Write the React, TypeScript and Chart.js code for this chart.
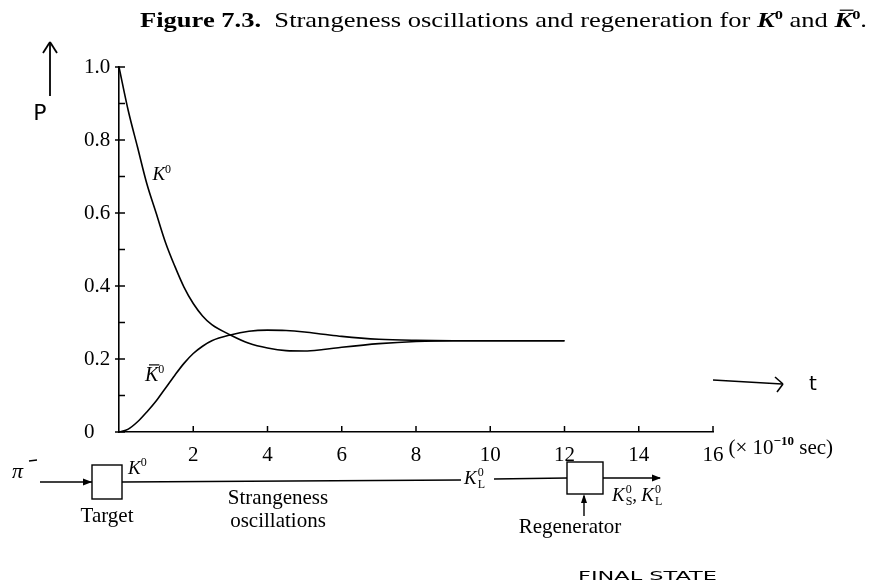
import React, { useEffect, useRef } from 'react';
import { Chart, registerables } from 'chart.js';

Chart.register(...registerables);

// ---- data ----
const tValues = [0, 0.25, 0.5, 0.75, 1, 1.25, 1.5, 1.75, 2, 2.25, 2.5, 3, 3.5, 4, 4.5, 5, 5.5, 6, 7, 8, 9, 10, 11, 12];
const k0Values = [1.0, 0.88, 0.78, 0.68, 0.6, 0.52, 0.455, 0.397, 0.352, 0.318, 0.294, 0.266, 0.243, 0.23, 0.223, 0.222, 0.226, 0.232, 0.242, 0.248, 0.25, 0.25, 0.25, 0.25];
const k0barValues = [0, 0.008, 0.028, 0.055, 0.085, 0.12, 0.155, 0.188, 0.215, 0.235, 0.25, 0.266, 0.276, 0.279, 0.278, 0.274, 0.268, 0.262, 0.254, 0.251, 0.25, 0.25, 0.25, 0.25];

const xTickValues = [2, 4, 6, 8, 10, 12, 14, 16];
const xTickLabels = ['2', '4', '6', '8', '10', '12', '14', '16'];
const yTickValues = [0, 0.2, 0.4, 0.6, 0.8, 1.0];
const yTickLabels = ['0', '0.2', '0.4', '0.6', '0.8', '1.0'];
const yMinorTicks = [0.1, 0.3, 0.5, 0.7, 0.9];

const SERIF = '"Liberation Serif", serif';
const SANS = '"DejaVu Sans", sans-serif';

type Seg = { text: string; font: string; dy?: number; bar?: boolean };

function drawSegs(ctx: CanvasRenderingContext2D, segs: Seg[], x: number, y: number, targetWidth?: number) {
  let total = 0;
  const widths = segs.map((s) => {
    ctx.font = s.font;
    const w = ctx.measureText(s.text).width;
    total += w;
    return w;
  });
  ctx.save();
  ctx.translate(x, y);
  if (targetWidth) ctx.scale(targetWidth / total, 1);
  let cx = 0;
  segs.forEach((s, i) => {
    ctx.font = s.font;
    ctx.textBaseline = 'alphabetic';
    ctx.textAlign = 'left';
    ctx.fillText(s.text, cx, s.dy || 0);
    if (s.bar) {
      const size = parseFloat(s.font.match(/(\d+(\.\d+)?)px/)![1]);
      ctx.beginPath();
      ctx.lineWidth = 1.2;
      ctx.moveTo(cx + size * 0.2, (s.dy || 0) - size * 0.8);
      ctx.lineTo(cx + widths[i] + size * 0.05, (s.dy || 0) - size * 0.8);
      ctx.stroke();
    }
    cx += widths[i];
  });
  ctx.restore();
  return targetWidth || total;
}

function kSegs(size: number, sup: string, bar?: boolean, bold?: boolean): Seg[] {
  const b = bold ? 'bold ' : '';
  return [
    { text: 'K', font: `italic ${b}${size}px ${SERIF}`, bar },
    { text: sup, font: `${b}${Math.round(size * 0.62)}px ${SERIF}`, dy: -size * 0.4 },
  ];
}

function drawKSub(ctx: CanvasRenderingContext2D, x: number, y: number, size: number, sub: string) {
  ctx.font = `italic ${size}px ${SERIF}`;
  ctx.textBaseline = 'alphabetic';
  ctx.textAlign = 'left';
  ctx.fillText('K', x, y);
  const w = ctx.measureText('K').width;
  ctx.font = `${Math.round(size * 0.62)}px ${SERIF}`;
  ctx.fillText('0', x + w + 1, y - size * 0.4);
  ctx.fillText(sub, x + w + 1, y + size * 0.22);
  const w2 = Math.max(ctx.measureText('0').width, ctx.measureText(sub).width);
  return w + 1 + w2;
}

function line(ctx: CanvasRenderingContext2D, x1: number, y1: number, x2: number, y2: number) {
  ctx.beginPath();
  ctx.moveTo(x1, y1);
  ctx.lineTo(x2, y2);
  ctx.stroke();
}

function headRight(ctx: CanvasRenderingContext2D, x: number, y: number) {
  ctx.beginPath();
  ctx.moveTo(x, y);
  ctx.lineTo(x - 9, y - 3.5);
  ctx.lineTo(x - 9, y + 3.5);
  ctx.closePath();
  ctx.fill();
}

const overlay = {
  id: 'overlay',
  afterDraw(chart: any) {
    const ctx: CanvasRenderingContext2D = chart.ctx;
    const xs = chart.scales.x;
    const ys = chart.scales.y;
    const { left, bottom } = chart.chartArea;
    ctx.save();
    ctx.strokeStyle = '#000';
    ctx.fillStyle = '#000';
    ctx.lineWidth = 1.5;

    // tick marks
    xTickValues.forEach((v) => {
      const px = xs.getPixelForValue(v);
      line(ctx, px, bottom, px, bottom - 6);
    });
    yTickValues.forEach((v) => {
      const py = ys.getPixelForValue(v);
      line(ctx, left - 4, py, left + 6, py);
    });
    yMinorTicks.forEach((v) => {
      const py = ys.getPixelForValue(v);
      line(ctx, left, py, left + 6, py);
    });

    // title
    drawSegs(
      ctx,
      [
        { text: 'Figure 7.3.', font: `bold 21px ${SERIF}` },
        { text: '  Strangeness oscillations and regeneration for ', font: `21px ${SERIF}` },
        ...kSegs(21, '0', false, true),
        { text: ' and ', font: `21px ${SERIF}` },
        ...kSegs(21, '0', true, true),
        { text: '.', font: `21px ${SERIF}` },
      ],
      140,
      27,
      727
    );

    // unit suffix after "16"
    ctx.font = `21px ${SERIF}`;
    const w16 = ctx.measureText('16').width;
    const ux = xs.getPixelForValue(16) + w16 / 2 + 5;
    drawSegs(
      ctx,
      [
        { text: '(× 10', font: `21px ${SERIF}` },
        { text: '−10', font: `bold 13px ${SERIF}`, dy: -9 },
        { text: ' sec)', font: `21px ${SERIF}` },
      ],
      ux,
      bottom + 22
    );

    // curve labels
    drawSegs(ctx, kSegs(19, '0'), xs.getPixelForValue(0.9), ys.getPixelForValue(0.69));
    drawSegs(ctx, kSegs(20, '0', true), xs.getPixelForValue(0.7), ys.getPixelForValue(0.14));

    // handwritten P axis arrow
    ctx.lineWidth = 1.8;
    line(ctx, 50, 96, 50, 42);
    line(ctx, 50, 42, 43, 53);
    line(ctx, 50, 42, 57, 53);
    ctx.font = `22px ${SANS}`;
    ctx.textAlign = 'center';
    ctx.fillText('P', 40, 120);

    // handwritten t arrow
    ctx.lineWidth = 1.6;
    line(ctx, 713, 380, 782, 384);
    line(ctx, 775, 377, 783, 384);
    line(ctx, 783, 384, 777, 392);
    ctx.font = `20px ${SANS}`;
    ctx.fillText('t', 813, 390);

    // ---- beam diagram ----
    ctx.lineWidth = 1.4;
    ctx.font = `italic 22px ${SERIF}`;
    ctx.textAlign = 'left';
    ctx.fillText('π', 12, 478);
    line(ctx, 29, 461, 37, 460);
    line(ctx, 40, 482, 92, 482);
    headRight(ctx, 92, 482);
    ctx.strokeRect(92, 465, 30, 34);
    line(ctx, 122, 482, 461, 480);
    drawSegs(ctx, kSegs(19, '0'), 128, 474);

    drawKSub(ctx, 464, 484, 19, 'L');
    line(ctx, 494, 479, 567, 478);
    ctx.strokeRect(567, 462, 36, 32);
    line(ctx, 603, 478, 660, 478);
    headRight(ctx, 661, 478);
    const wks = drawKSub(ctx, 612, 501, 19, 'S');
    ctx.font = `19px ${SERIF}`;
    ctx.fillText(',', 612 + wks, 501);
    drawKSub(ctx, 612 + wks + 9, 501, 19, 'L');
    line(ctx, 584, 516, 584, 496);
    ctx.beginPath();
    ctx.moveTo(584, 494);
    ctx.lineTo(581, 503);
    ctx.lineTo(587, 503);
    ctx.closePath();
    ctx.fill();

    ctx.font = `21px ${SERIF}`;
    ctx.textAlign = 'center';
    ctx.fillText('Target', 107, 522);
    ctx.fillText('Strangeness', 278, 504);
    ctx.fillText('oscillations', 278, 527);
    ctx.fillText('Regenerator', 570, 533);

    ctx.textAlign = 'left';
    drawSegs(ctx, [{ text: 'FINAL STATE', font: `13px ${SANS}` }], 578, 580, 139);

    ctx.restore();
  },
};

export default function App() {
  const ref = useRef<HTMLCanvasElement>(null);
  useEffect(() => {
    const canvas = ref.current!;
    const chart = new Chart(canvas, {
      type: 'line',
      data: {
        datasets: [
          {
            label: 'K0',
            data: tValues.map((t, i) => ({ x: t, y: k0Values[i] })),
            borderColor: '#000',
            borderWidth: 1.6,
            pointRadius: 0,
            cubicInterpolationMode: 'monotone',
            fill: false,
          },
          {
            label: 'K0bar',
            data: tValues.map((t, i) => ({ x: t, y: k0barValues[i] })),
            borderColor: '#000',
            borderWidth: 1.6,
            pointRadius: 0,
            cubicInterpolationMode: 'monotone',
            fill: false,
          },
        ],
      },
      options: {
        responsive: false,
        animation: false,
        devicePixelRatio: 1,
        layout: { padding: { left: 84, top: 67, right: 169, bottom: 114 } },
        plugins: { legend: { display: false }, tooltip: { enabled: false }, title: { display: false } },
        scales: {
          x: {
            type: 'linear',
            min: 0,
            max: 16,
            grid: { display: false },
            border: { display: true, color: '#000', width: 1.6 },
            afterBuildTicks: (s: any) => {
              s.ticks = xTickValues.map((v) => ({ value: v }));
            },
            afterFit: (s: any) => {
              s.height = 40;
            },
            ticks: {
              color: '#000',
              font: { family: SERIF, size: 21 },
              padding: 3,
              maxRotation: 0,
              autoSkip: false,
              callback: (_v: any, i: number) => xTickLabels[i],
            },
          },
          y: {
            type: 'linear',
            min: 0,
            max: 1,
            grid: { display: false },
            border: { display: true, color: '#000', width: 1.6 },
            afterBuildTicks: (s: any) => {
              s.ticks = yTickValues.map((v) => ({ value: v }));
            },
            afterFit: (s: any) => {
              s.width = 35;
            },
            ticks: {
              color: '#000',
              font: { family: SERIF, size: 21 },
              crossAlign: 'far',
              autoSkip: false,
              callback: (_v: any, i: number) => yTickLabels[i],
            },
          },
        },
      } as any,
      plugins: [overlay],
    });
    return () => chart.destroy();
  }, []);
  return (
    <canvas
      ref={ref}
      width={882}
      height={586}
      style={{ position: 'fixed', left: 0, top: 0, width: 882, height: 586, background: '#fff' }}
    />
  );
}
